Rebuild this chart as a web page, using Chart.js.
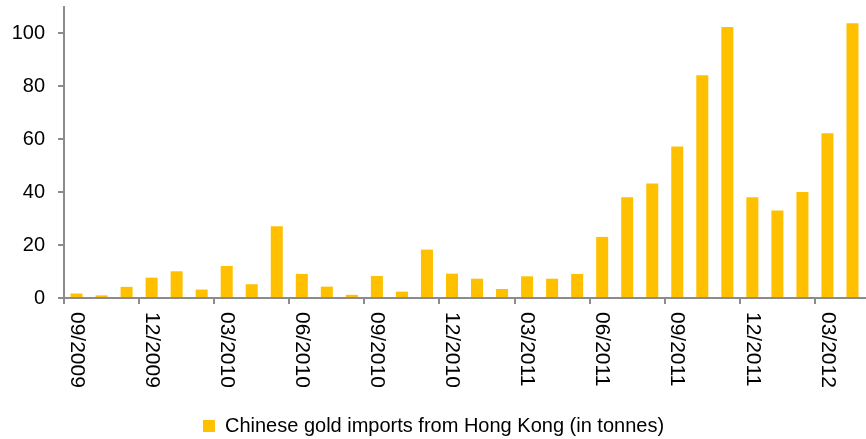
<!DOCTYPE html>
<html>
<script src="https://cdn.jsdelivr.net/npm/chart.js@4/dist/chart.umd.min.js"></script>
<body style="margin:0">

<div style="width:866px;height:439px"><canvas id="goldChart"></canvas></div>

<script>
var months = ["09/2009","10/2009","11/2009","12/2009","01/2010","02/2010","03/2010","04/2010",
  "05/2010","06/2010","07/2010","08/2010","09/2010","10/2010","11/2010","12/2010",
  "01/2011","02/2011","03/2011","04/2011","05/2011","06/2011","07/2011","08/2011",
  "09/2011","10/2011","11/2011","12/2011","01/2012","02/2012","03/2012","04/2012"];
var imports = [1.7, 1.0, 4.2, 7.7, 10.1, 3.2, 12.1, 5.2, 27.1, 9.1, 4.3, 1.2, 8.3, 2.4, 18.3, 9.2,
  7.3, 3.4, 8.2, 7.3, 9.1, 23.1, 38.1, 43.3, 57.3, 84.2, 102.4, 38.1, 33.1, 40.1, 62.3, 103.9];
var yTicks = [0, 20, 40, 60, 80, 100];
var seriesName = "Chinese gold imports from Hong Kong (in tonnes)";

var axisColor = "#8c8c8c";
var font = {family: "Liberation Sans, Arial, sans-serif", size: 20};

// labels read top to bottom, so draw them ourselves
var downLabels = {
  id: "downLabels",
  afterDraw: function(chart) {
    var x = chart.scales.x;
    var ctx = chart.ctx;
    ctx.save();
    ctx.fillStyle = "#000";
    ctx.font = "21px " + font.family;
    ctx.textAlign = "left";
    ctx.textBaseline = "middle";
    months.forEach(function(m, i) {
      if (i % 3 !== 0) return;
      ctx.save();
      ctx.translate(x.getPixelForValue(i), x.top + 14);
      ctx.rotate(Math.PI / 2);
      ctx.fillText(m, 0, 0);
      ctx.restore();
    });
    ctx.restore();
  }
};

new Chart("goldChart", {
  type: "bar",
  data: {
    labels: months,
    datasets: [{
      label: seriesName,
      data: imports,
      backgroundColor: "#ffc000",
      barPercentage: 0.48,
      categoryPercentage: 1
    }]
  },
  options: {
    responsive: true,
    maintainAspectRatio: false,
    animation: false,
    layout: {padding: {top: 7, right: 1, left: 2, bottom: 0}},
    plugins: {
      tooltip: {enabled: false},
      legend: {
        position: "bottom",
        maxHeight: 27,
        labels: {color: "#000", font: font, boxWidth: 12, boxHeight: 12, padding: 4}
      }
    },
    scales: {
      x: {
        border: {color: axisColor, width: 2},
        grid: {
          offset: true,
          drawOnChartArea: false,
          tickLength: 6,
          lineWidth: 2,
          color: function(c) { return c.index % 3 === 0 ? axisColor : "transparent"; }
        },
        ticks: {display: false},
        afterFit: function(s) {
          s.height = 114;
          s.paddingLeft = 0;
          s.paddingRight = 0;
        }
      },
      y: {
        min: 0,
        max: 110,
        border: {color: axisColor, width: 2},
        grid: {drawOnChartArea: false, tickLength: 6, lineWidth: 2, color: axisColor},
        afterBuildTicks: function(s) {
          s.ticks = yTicks.map(function(v) { return {value: v}; });
        },
        ticks: {color: "#000", font: font, padding: 13},
        afterFit: function(s) {
          s.width = 62;
          s.paddingTop = 0;
          s.paddingBottom = 0;
        }
      }
    }
  },
  plugins: [downLabels]
});
</script>

</body>
</html>
